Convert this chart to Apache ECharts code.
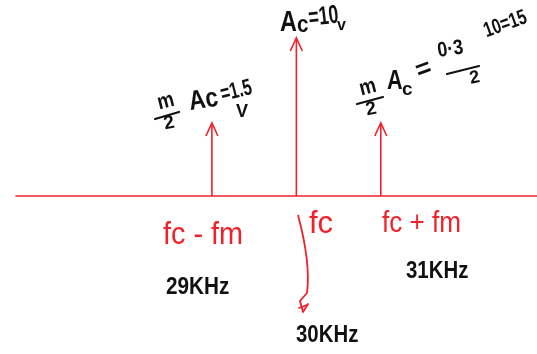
<!DOCTYPE html>
<html>
<head>
<meta charset="utf-8">
<script src="https://cdn.jsdelivr.net/npm/echarts@6/dist/echarts.min.js"></script>
<style>
  html, body { margin: 0; padding: 0; background: #fff; }
  #chart { width: 537px; height: 354px; }
</style>
</head>
<body>
<div id="chart"></div>
<script>
// AM spectrum: carrier and two side-band lines
const frequencies = [29, 30, 31];            // kHz
const amplitudes = [1.5, 10, 1.5];           // V
const lineNames = ['fc - fm', 'fc', 'fc + fm'];
const freqLabels = ['29KHz', '30KHz', '31KHz'];

const RED = '#f0212b';
const INK = '#111';
const FONT = '"Liberation Sans", Arial, sans-serif';

const yMin = 0.294;
const yMax = 10;

const chart = echarts.init(document.getElementById('chart'), null, { renderer: 'canvas' });

function txt(text, x, y, size, opts) {
  opts = opts || {};
  return {
    type: 'text',
    x: x, y: y,
    rotation: opts.rot || 0,
    scaleX: opts.sx || 1,
    scaleY: opts.sy || 1,
    style: {
      text: text,
      fill: opts.color || INK,
      font: (opts.weight || 'bold') + ' ' + size + 'px ' + FONT,
      textAlign: 'left',
      textVerticalAlign: 'top'
    }
  };
}
function seg(x1, y1, x2, y2, color, w) {
  return {
    type: 'line',
    shape: { x1: x1, y1: y1, x2: x2, y2: y2 },
    style: { stroke: color || INK, lineWidth: w || 2.2, lineCap: 'round' }
  };
}

const graphics = [
  // left side band amplitude: (m/2) Ac = 1.5 V
  txt('m', 155, 93, 22, { rot: 0.25, sx: 0.85 }),
  seg(155, 119, 179, 112),
  txt('2', 162, 115, 19, { rot: 0.2 }),
  txt('Ac', 187, 89, 26, { rot: 0.15, sx: 0.88, sy: 1.05 }),
  txt('=1.5', 218, 84, 23, { rot: 0.25, sx: 0.7 }),
  txt('V', 236, 103, 18),

  // carrier amplitude: Ac = 10 V
  txt('A', 280, 8, 30, { sx: 0.78 }),
  txt('c', 297, 14, 23, { sx: 0.9 }),
  txt('=10', 307, 6, 26, { rot: 0.12, sx: 0.68 }),
  txt('v', 337, 18, 16),

  // right side band amplitude: (m/2) Ac = (0.3/2) 10 = 1.5
  txt('m', 357, 79, 22, { rot: 0.25, sx: 0.85 }),
  seg(357, 104, 383, 97),
  txt('2', 364, 101, 19, { rot: 0.2 }),
  txt('A', 387, 68, 27, { sx: 0.8 }),
  txt('c', 402, 80, 19),
  txt('=', 412, 60, 26, { rot: 0.35 }),
  txt('0·3', 436, 41, 21, { rot: 0.15, sx: 0.85 }),
  seg(447, 74, 479, 66),
  txt('2', 468, 70, 18, { rot: 0.2 }),
  txt('10=15', 481, 22, 21, { rot: 0.35, sx: 0.75 }),

  // frequency labels
  txt(lineNames[0], 163, 220, 31, { color: RED, sx: 0.93, weight: 'normal' }),
  txt(freqLabels[0], 166, 276, 23, { sx: 0.9 }),
  txt(lineNames[1], 309, 209, 31, { color: RED, weight: 'normal' }),
  txt(freqLabels[1], 296, 323, 24, { sx: 0.85 }),
  txt(lineNames[2], 382, 209, 29, { color: RED, sx: 0.9, weight: 'normal' }),
  txt(freqLabels[2], 406, 259, 24, { sx: 0.85 }),

  // pointer from fc down to its frequency value
  {
    type: 'bezierCurve',
    shape: { x1: 298, y1: 215, cpx1: 306, cpy1: 245, cpx2: 310, cpy2: 270, x2: 307, y2: 293 },
    style: { stroke: RED, lineWidth: 1.8, fill: null }
  },
  {
    type: 'polyline',
    shape: { points: [[307, 293], [300, 301], [303, 312]] },
    style: { stroke: RED, lineWidth: 1.8, fill: null }
  },
  seg(299, 308, 307, 305, RED, 1.8),
  seg(303, 312, 308, 304, RED, 1.8)
];

chart.setOption({
  animation: false,
  backgroundColor: '#fff',
  grid: { left: 16, right: 0, top: 38, bottom: 158 },
  xAxis: {
    type: 'value',
    min: 26.68,
    max: 32.85,
    axisLine: { show: true, lineStyle: { color: RED, width: 1.6 } },
    axisTick: { show: false },
    axisLabel: { show: false },
    splitLine: { show: false }
  },
  yAxis: {
    type: 'log',
    logBase: 10,
    min: yMin,
    max: yMax,
    show: false,
    splitLine: { show: false }
  },
  series: [{
    type: 'custom',
    data: frequencies.map((f, i) => [f, amplitudes[i]]),
    renderItem: function (params, api) {
      const base = api.coord([api.value(0), yMin]);
      const tip = api.coord([api.value(0), api.value(1)]);
      const style = { stroke: RED, lineWidth: 1.6, fill: null };
      return {
        type: 'group',
        children: [
          { type: 'line', shape: { x1: base[0], y1: base[1], x2: tip[0], y2: tip[1] }, style: style },
          { type: 'polyline', shape: { points: [[tip[0] - 6, tip[1] + 13], tip, [tip[0] + 6, tip[1] + 13]] }, style: style }
        ]
      };
    }
  }],
  graphic: graphics
});
</script>
</body>
</html>
